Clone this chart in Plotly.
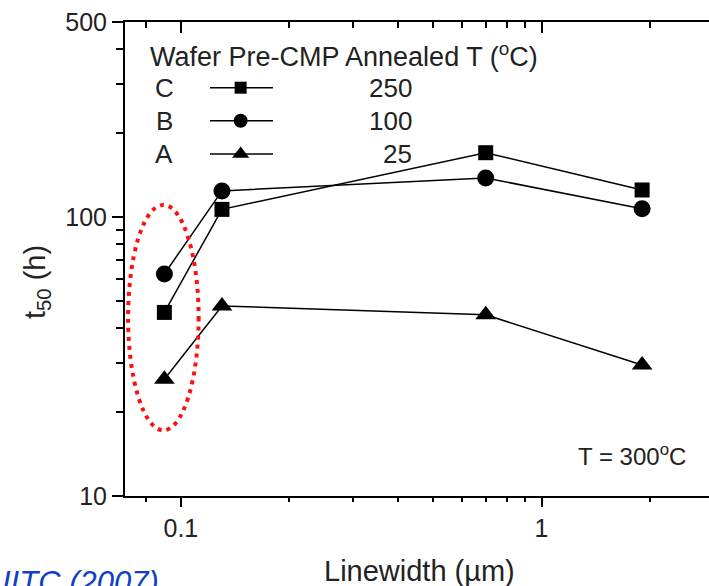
import plotly.graph_objects as go
import math

# ---- data ----
linewidth_um = [0.09, 0.13, 0.7, 1.9]
t50_C_250 = [45.5, 106.5, 170, 125]
t50_B_100 = [62.5, 124, 138, 107]
t50_A_25 = [26.2, 48, 44.6, 29.5]

wafers = ["C", "B", "A"]
anneal_T = ["250", "100", "25"]
symbols = ["square", "circle", "triangle-up"]
series = [t50_C_250, t50_B_100, t50_A_25]

y_ticks = [10, 100, 500]
y_minor = [20, 30, 40, 50, 60, 70, 80, 90, 200, 300, 400]
x_ticks = [0.1, 1]
x_minor = [0.08, 0.2, 0.3, 0.4, 0.5, 0.6, 0.7, 0.8, 0.9, 2]

X_MIN = 0.07
W, H = 709, 586
ML, MR, MT, MB = 125, 0, 22, 90
PX_PER_DEC = 360.7
x_max = X_MIN * 10 ** ((W - ML - MR) / PX_PER_DEC)
xr = [math.log10(X_MIN), math.log10(x_max)]

FONT = "Liberation Sans, Arial, sans-serif"
data_sizes = [15, 17, 18]
legend_sizes = [12, 14, 15]

fig = go.Figure()

for sym, ys, sz in zip(symbols, series, data_sizes):
    fig.add_trace(go.Scatter(
        x=linewidth_um, y=ys, mode="lines+markers",
        line=dict(color="black", width=1.5),
        marker=dict(symbol=sym, size=sz, color="black"),
        showlegend=False, hoverinfo="skip"))

# dummy trace on top axis so it renders
fig.add_trace(go.Scatter(x=[0.1], y=[10], xaxis="x2", yaxis="y",
                         mode="markers", marker=dict(size=1, opacity=0),
                         showlegend=False, hoverinfo="skip"))

# custom legend samples (paper-like overlay axes)
leg_y = [0.8614, 0.7918, 0.7215]
for sym, ly, sz in zip(symbols, leg_y, legend_sizes):
    fig.add_trace(go.Scatter(
        x=[0.1455, 0.2534], y=[ly, ly], mode="lines", xaxis="x3", yaxis="y3",
        line=dict(color="black", width=1.5), showlegend=False, hoverinfo="skip"))
    fig.add_trace(go.Scatter(
        x=[0.198], y=[ly], mode="markers", xaxis="x3", yaxis="y3",
        marker=dict(symbol=sym, size=sz, color="black"),
        showlegend=False, hoverinfo="skip"))

tickfont = dict(family=FONT, size=25, color="#222")

fig.update_layout(
    width=W, height=H,
    margin=dict(l=ML, r=MR, t=MT, b=MB, autoexpand=False),
    paper_bgcolor="white", plot_bgcolor="white",
    xaxis=dict(
        type="log", range=xr, showgrid=False, zeroline=False,
        showline=True, linecolor="black", linewidth=2,
        tickmode="array", tickvals=x_ticks, ticktext=["0.1", "1"],
        ticks="outside", ticklen=9, tickwidth=1.5, tickcolor="black",
        minor=dict(tickmode="array", tickvals=x_minor, ticks="outside",
                   ticklen=4, tickwidth=1.5, tickcolor="black"),
        tickfont=tickfont, automargin=False),
    xaxis2=dict(
        type="log", range=xr, overlaying="x", side="top", anchor="y",
        showgrid=False, zeroline=False, showline=True, linecolor="black",
        linewidth=2, tickmode="array", tickvals=x_ticks, showticklabels=False,
        ticks="inside", ticklen=11, tickwidth=1.5, tickcolor="black",
        minor=dict(tickmode="array", tickvals=x_minor, ticks="inside",
                   ticklen=6, tickwidth=1.5, tickcolor="black"),
        automargin=False),
    yaxis=dict(
        type="log", range=[1, math.log10(500)], showgrid=False, zeroline=False,
        showline=True, linecolor="black", linewidth=2,
        tickmode="array", tickvals=y_ticks, ticktext=["10", "100", "500"],
        ticks="outside", ticklen=11, tickwidth=1.5, tickcolor="black",
        minor=dict(tickmode="array", tickvals=y_minor, ticks="outside",
                   ticklen=7, tickwidth=1.5, tickcolor="black"),
        tickfont=tickfont, automargin=False),
    xaxis3=dict(range=[0, 1], overlaying="x", visible=False, anchor="y3"),
    yaxis3=dict(range=[0, 1], overlaying="y", visible=False, anchor="x3"),
)

ann = []
# legend title
ann.append(dict(x=0.0394, y=0.930, xref="paper", yref="paper", xanchor="left",
                yanchor="middle", showarrow=False,
                text="Wafer Pre-CMP Annealed T (<sup>o</sup>C)",
                font=dict(family=FONT, size=27, color="#222")))
for w, t, ly in zip(wafers, anneal_T, leg_y):
    ann.append(dict(x=0.0668, y=ly, xref="paper", yref="paper", xanchor="center",
                    yanchor="middle", showarrow=False, text=w,
                    font=dict(family=FONT, size=26, color="#222")))
    ann.append(dict(x=0.495, y=ly, xref="paper", yref="paper", xanchor="right",
                    yanchor="middle", showarrow=False, text=t,
                    font=dict(family=FONT, size=26, color="#222")))
# T = 300 C
ann.append(dict(x=0.964, y=0.0865, xref="paper", yref="paper", xanchor="right",
                yanchor="middle", showarrow=False, text="T = 300<sup>o</sup>C",
                font=dict(family=FONT, size=24, color="#222")))
# axis titles
ann.append(dict(x=0.505, y=-0.158, xref="paper", yref="paper", xanchor="center",
                yanchor="middle", showarrow=False, text="Linewidth (\u00b5m)",
                font=dict(family=FONT, size=29, color="#222")))
ann.append(dict(x=-0.1507, y=0.4515, xref="paper", yref="paper", xanchor="center",
                yanchor="middle", showarrow=False, textangle=-90,
                text="t<sub>50</sub> (h)",
                font=dict(family=FONT, size=29, color="#222")))
# citation
ann.append(dict(x=-0.214, y=-0.141, xref="paper", yref="paper", xanchor="left",
                yanchor="top", showarrow=False, text="<i>IITC (2007)</i>",
                font=dict(family=FONT, size=31, color="#1040C8")))
fig.update_layout(annotations=ann)

# red dotted ellipse highlighting the narrowest linewidth
fig.add_shape(type="circle", xref="x", yref="y",
              x0=0.0714, x1=0.112, y0=17.2, y1=110.5,
              line=dict(color="#ff1010", width=4, dash="4px,5px"))

fig.write_html("out.html")
